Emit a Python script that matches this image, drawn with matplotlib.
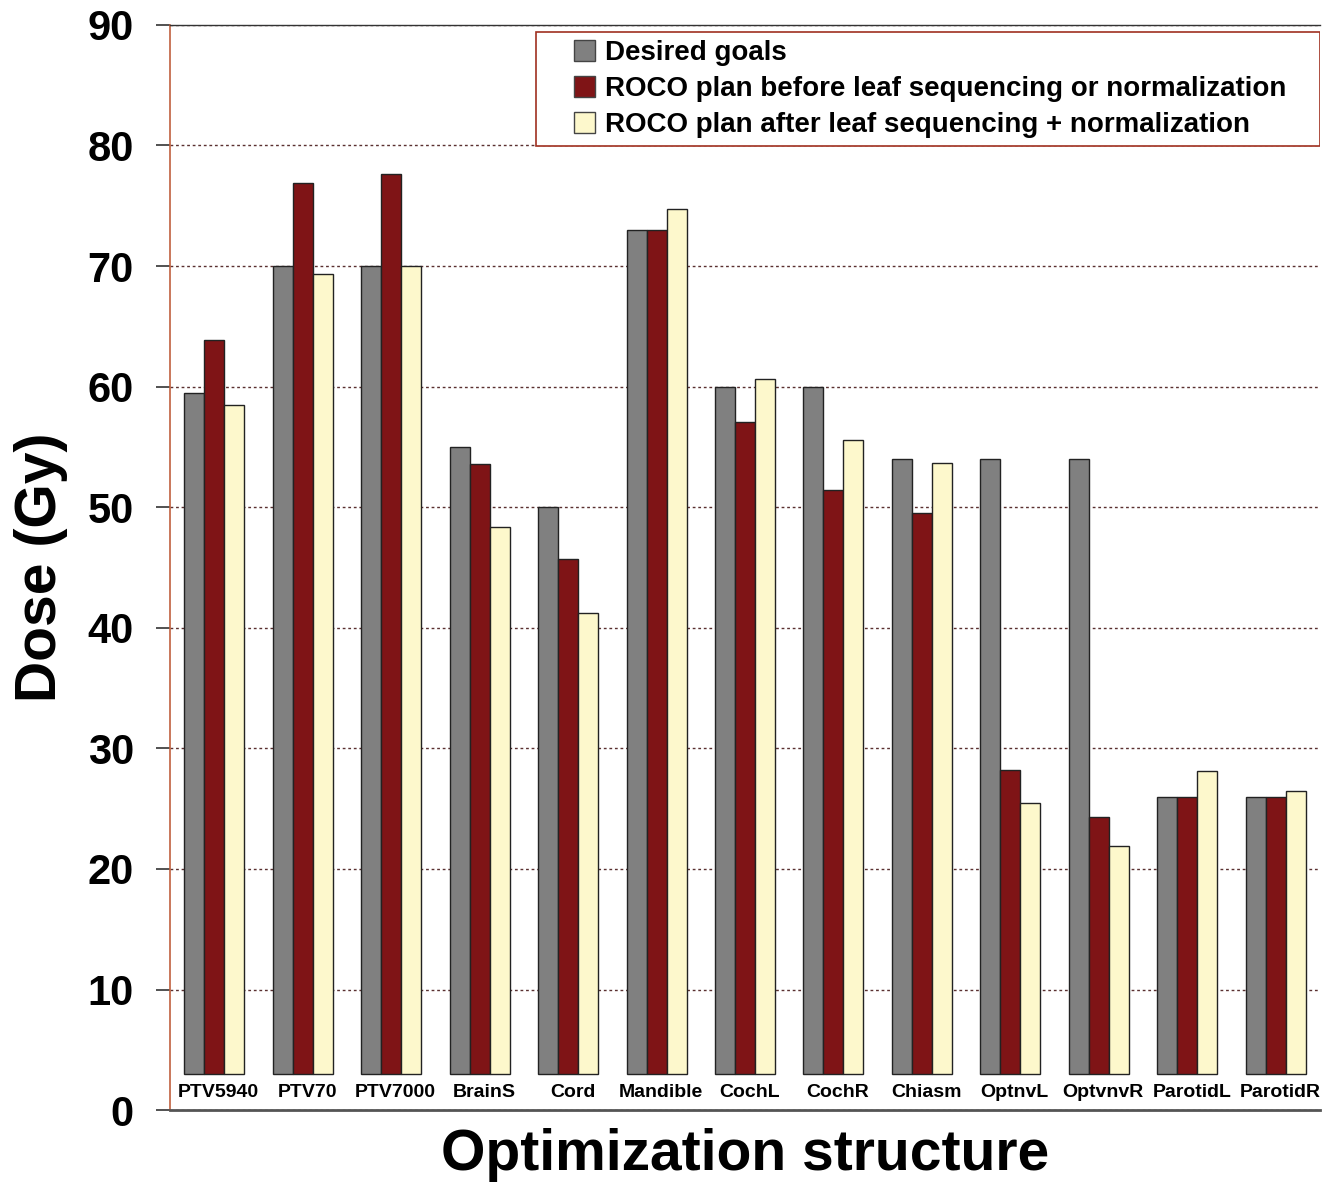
import numpy as np
import matplotlib
matplotlib.use('Agg')
import matplotlib.pyplot as plt
from matplotlib.patches import Rectangle

plt.rcParams['font.family'] = ['Liberation Sans', 'DejaVu Sans']

# data
structures = ['PTV5940', 'PTV70', 'PTV7000', 'BrainS', 'Cord', 'Mandible', 'CochL',
              'CochR', 'Chiasm', 'OptnvL', 'OptvnvR', 'ParotidL', 'ParotidR']
desired = [59.5, 70, 70, 55, 50, 73, 60, 60, 54, 54, 54, 26, 26]
before = [63.9, 76.9, 77.6, 53.6, 45.7, 73, 57.1, 51.4, 49.5, 28.2, 24.3, 26, 26]
after = [58.5, 69.3, 70, 48.4, 41.2, 74.7, 60.6, 55.6, 53.7, 25.5, 21.9, 28.1, 26.5]
series_names = ['Desired goals',
                'ROCO plan before leaf sequencing or normalization',
                'ROCO plan after leaf sequencing + normalization']
colors = ['#808080', '#7f1416', '#fdf8cc']

bar_base = 3.0  # bars start above the category label strip
w = 0.226
x = np.arange(len(structures))

fig = plt.figure(figsize=(13.28, 11.86), dpi=100)
ax = fig.add_axes([0.128, 0.064, 0.866, 0.915])

for i, (vals, c, name) in enumerate(zip([desired, before, after], colors, series_names)):
    h = np.array(vals) - bar_base
    ax.bar(x + (i - 1) * w, h, w, bottom=bar_base, color=c, edgecolor='#222222',
           linewidth=1.0, label=name, zorder=3)

for xi, s in zip(x, structures):
    ax.text(xi + 0.05, 1.5, s, ha='center', va='center', fontsize=14,
            fontweight='bold', zorder=4)

ax.set_xlim(-0.5, len(structures) - 0.5)
ax.set_ylim(0, 90)
ax.set_yticks(np.arange(0, 91, 10))
ax.set_xticks([])
ax.yaxis.grid(True, linestyle=(0, (2, 2)), color='#5a3030', linewidth=1.0, zorder=0)

ax.spines['right'].set_visible(False)
ax.spines['left'].set_color('#c0603e')
ax.spines['left'].set_linewidth(1.2)
ax.spines['bottom'].set_color('#555555')
ax.spines['bottom'].set_linewidth(2.0)
ax.spines['top'].set_color('#333333')
ax.spines['top'].set_linewidth(1.0)

ax.tick_params(axis='y', direction='out', length=10, width=1.2, color='#333333',
               pad=16, labelsize=30)
for t in ax.get_yticklabels():
    t.set_fontweight('bold')

ax.set_ylabel('Dose (Gy)', fontsize=41, fontweight='bold', labelpad=14)
ax.set_xlabel('Optimization structure', fontsize=41, fontweight='bold', labelpad=13)

leg = ax.legend(loc='upper right', bbox_to_anchor=(0.9705, 0.986),
                prop={'weight': 'bold', 'size': 20}, frameon=False,
                handlelength=0.75, handleheight=0.75, handletextpad=0.35,
                borderpad=0.0, labelspacing=0.36, borderaxespad=0.0)
leg.set_zorder(6)
for hnd in leg.legend_handles:
    hnd.set_edgecolor('#444444')

# legend frame with the wide left margin of the original
fig.canvas.draw()
bb = leg.get_window_extent().transformed(ax.transAxes.inverted())
px = 1.0 / (ax.bbox.width)
py = 1.0 / (ax.bbox.height)
frame = Rectangle((bb.x0 - 38 * px, bb.y0 - 8 * py),
                  (bb.x1 - bb.x0) + 38 * px + 34 * px, (bb.y1 - bb.y0) + 16 * py,
                  transform=ax.transAxes, facecolor='white', edgecolor='#a03020',
                  linewidth=1.2, zorder=5)
ax.add_patch(frame)

fig.savefig('out.png', dpi=100, facecolor='white')
